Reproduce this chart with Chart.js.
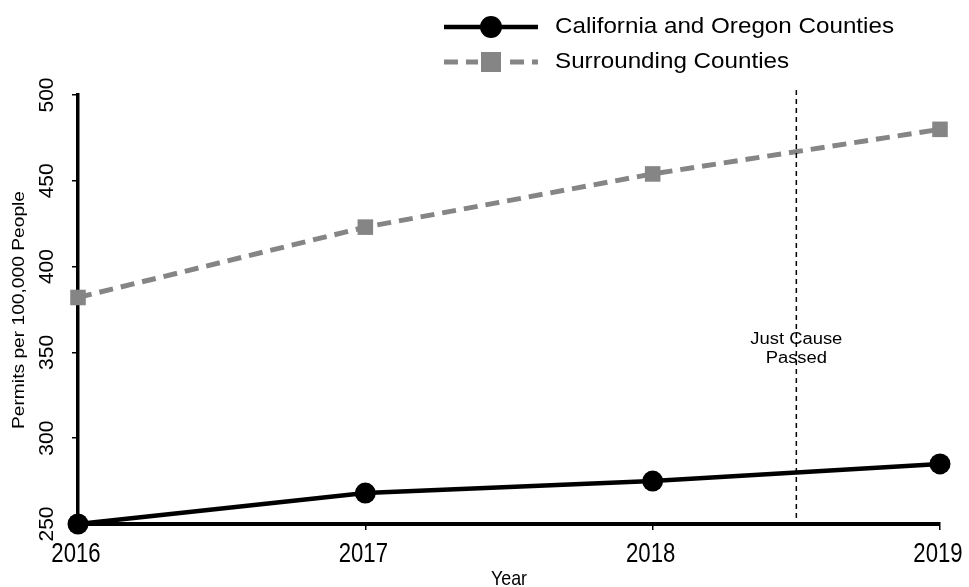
<!DOCTYPE html>
<html>
<head>
<meta charset="utf-8">
<script src="https://cdn.jsdelivr.net/npm/chart.js@4.4.1/dist/chart.umd.min.js"></script>
<style>
  html, body { margin: 0; padding: 0; background: #fff; }
  #wrap { width: 969px; height: 587px; }
</style>
</head>
<body>
<div id="wrap"><canvas id="chart" width="969" height="587"></canvas></div>
<script>
// Permits per 100,000 people
const years = [2016, 2017, 2018, 2019];
const caOregon = [250, 268, 275, 285];
const surrounding = [382, 423, 454, 480];
const yTicks = [250, 300, 350, 400, 450, 500];
const seriesNames = ['California and Oregon Counties', 'Surrounding Counties'];
const passedYear = 2018.5;
const passedLabel = ['Just Cause', 'Passed'];

const FONT = "'Liberation Sans', Arial, sans-serif";
const GRAY = '#858585';

// text squeezed/stretched horizontally to a given width factor
function drawText(ctx, text, x, y, size, sx, rot) {
    ctx.save();
    ctx.translate(x, y);
    if (rot) ctx.rotate(rot);
    ctx.scale(sx, 1);
    ctx.font = size + 'px ' + FONT;
    ctx.fillText(text, 0, 0);
    ctx.restore();
}

const extras = {
    id: 'extras',
    afterDraw(chart) {
        const ctx = chart.ctx;
        const y = chart.scales.y;
        const x = chart.scales.x;
        const area = chart.chartArea;

        ctx.save();
        ctx.fillStyle = '#000';
        ctx.textAlign = 'center';
        ctx.textBaseline = 'middle';

        // y tick labels, vertical
        yTicks.forEach(v => drawText(ctx, String(v), area.left - 31, y.getPixelForValue(v), 21, 1, -Math.PI / 2));

        // x tick labels, condensed
        years.forEach(v => drawText(ctx, String(v), x.getPixelForValue(v) - 2, area.bottom + 31, 27, 0.82));

        // axis titles
        drawText(ctx, 'Year', (area.left + area.right) / 2, 579, 21, 0.85);
        drawText(ctx, 'Permits per 100,000 People', 20, 310, 16, 1.2, -Math.PI / 2);

        // just cause line
        const px = x.getPixelForValue(passedYear);
        ctx.strokeStyle = '#000';
        ctx.lineWidth = 1.5;
        ctx.setLineDash([5, 4]);
        ctx.beginPath();
        ctx.moveTo(px, area.top - 5);
        ctx.lineTo(px, area.bottom);
        ctx.stroke();
        ctx.setLineDash([]);
        drawText(ctx, passedLabel[0], px, 340, 16, 1.15);
        drawText(ctx, passedLabel[1], px, 359, 16, 1.15);

        // legend
        const rows = [
            { y: 27, color: '#000', dash: [], width: 4.5, marker: 'circle' },
            { y: 62, color: GRAY, dash: [14, 8], width: 5, marker: 'square' }
        ];
        rows.forEach((r, i) => {
            ctx.strokeStyle = r.color;
            ctx.fillStyle = r.color;
            ctx.lineWidth = r.width;
            ctx.setLineDash(r.dash);
            ctx.beginPath();
            ctx.moveTo(444, r.y);
            ctx.lineTo(538, r.y);
            ctx.stroke();
            ctx.setLineDash([]);
            if (r.marker === 'circle') {
                ctx.beginPath();
                ctx.arc(491, r.y, 11, 0, Math.PI * 2);
                ctx.fill();
            } else {
                ctx.clearRect(478, r.y - 12, 26, 24);
                ctx.fillRect(481, r.y - 10, 20, 20);
            }
            ctx.fillStyle = '#000';
            ctx.textAlign = 'left';
            drawText(ctx, seriesNames[i], 555, r.y, 22, 1.1);
        });
        ctx.restore();
    }
};

new Chart(document.getElementById('chart'), {
    type: 'line',
    data: {
        datasets: [
            {
                label: seriesNames[1],
                data: years.map((yr, i) => ({ x: yr, y: surrounding[i] })),
                borderColor: GRAY,
                backgroundColor: GRAY,
                borderWidth: 5,
                borderDash: [14, 8],
                pointStyle: 'rect',
                pointRadius: 11,
                pointBorderWidth: 0,
                clip: false
            },
            {
                label: seriesNames[0],
                data: years.map((yr, i) => ({ x: yr, y: caOregon[i] })),
                borderColor: '#000',
                backgroundColor: '#000',
                borderWidth: 4.5,
                pointStyle: 'circle',
                pointRadius: 10.5,
                pointBorderWidth: 0,
                clip: false
            }
        ]
    },
    options: {
        responsive: false,
        animation: false,
        layout: { padding: { top: 95, left: 72, right: 29, bottom: 57 } },
        plugins: { legend: { display: false }, tooltip: { enabled: false } },
        scales: {
            x: {
                type: 'linear',
                min: 2016,
                max: 2019,
                border: { color: '#000', width: 4 },
                grid: { drawOnChartArea: false, drawTicks: true, tickLength: 6, color: '#000', lineWidth: 1.5 },
                ticks: { stepSize: 1, display: false }
            },
            y: {
                min: 250,
                max: 500,
                border: { color: '#000', width: 3.5 },
                grid: { drawOnChartArea: false, drawTicks: true, tickLength: 6, color: '#000', lineWidth: 1.5 },
                ticks: { stepSize: 50, display: false }
            }
        }
    },
    plugins: [extras]
});
</script>
</body>
</html>
